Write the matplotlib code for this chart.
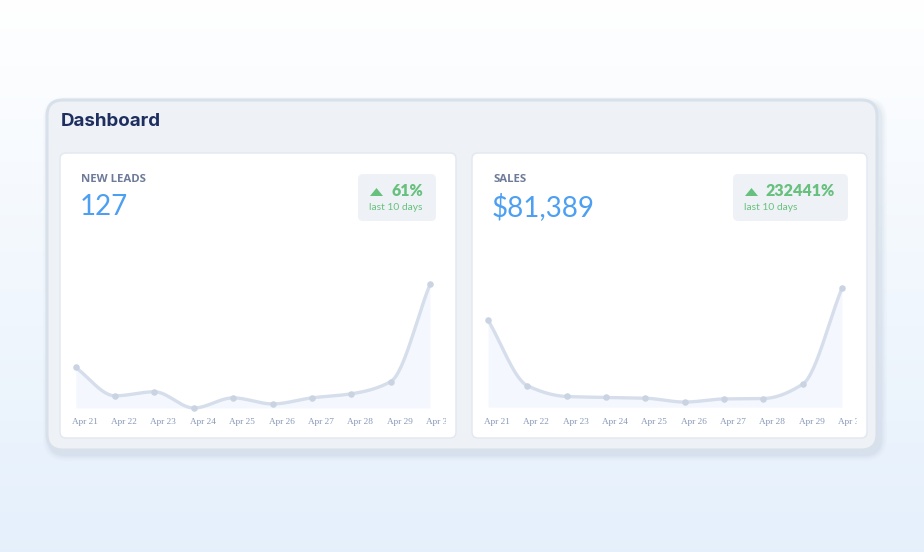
import numpy as np
import matplotlib
matplotlib.use("Agg")
import matplotlib.pyplot as plt
from matplotlib.patches import FancyBboxPatch, Polygon
from matplotlib.transforms import Bbox

# ---------------- data ----------------
dates = ["Apr 21", "Apr 22", "Apr 23", "Apr 24", "Apr 25",
         "Apr 26", "Apr 27", "Apr 28", "Apr 29", "Apr 30"]
leads = [20, 6, 8, 0, 5, 2, 5, 7, 13, 61]
sales = [23400, 5800, 2900, 2650, 2450, 1400, 2250, 2350, 6200, 31989]

titles = ["NEW LEADS", "SALES"]
totals = ["127", "$81,389"]
changes = ["61%", "232441%"]
period = "last 10 days"
dashboard_title = "Dashboard"

# ---------------- style ----------------
W, H = 924, 552
NAVY = "#1e2f5f"
LABEL = "#6d7b98"
BLUE = "#4d9ff2"
GREEN = "#67c07d"
LINE = "#d6deeb"
DOT = "#c9d3e2"
FILL = "#f4f8fe"
TICK = "#8697b8"

fig = plt.figure(figsize=(W / 100, H / 100), dpi=100)
bg = fig.add_axes([0, 0, 1, 1])
bg.set_xlim(0, W)
bg.set_ylim(H, 0)
bg.axis("off")

# background gradient
grad = np.linspace(0, 1, 256)[:, None]
c0 = np.array([0.998, 0.999, 1.0])
c1 = np.array([0.898, 0.941, 0.988])
img = c0[None, None, :] * (1 - grad[..., None]) + c1[None, None, :] * grad[..., None]
img = np.repeat(img, 2, axis=1)
bg.imshow(img, extent=[0, W, H, 0], aspect="auto", zorder=0)


def rbox(x0, y0, x1, y1, r, fc, ec="none", lw=0, z=1, alpha=1.0):
    p = FancyBboxPatch((x0 + r, y0 + r), (x1 - x0) - 2 * r, (y1 - y0) - 2 * r,
                       boxstyle=f"round,pad={r}", fc=fc, ec=ec, lw=lw,
                       zorder=z, alpha=alpha)
    bg.add_patch(p)
    return p


# outer dashboard card with soft shadow
for i, a in enumerate([0.04, 0.05, 0.07, 0.09]):
    g = 7 - i * 1.6
    rbox(47 - g + 3, 100 - g + 4, 877 + g + 3, 450 + g + 4, 16 + g,
         fc="#9fb0c8", z=1, alpha=a)
rbox(47, 100, 877, 450, 16, fc="#eef2f7", ec="#d8e0ea", lw=2.2, z=2)
bg.text(61, 121.5, dashboard_title, fontsize=13.5, fontweight="bold",
        color=NAVY, family=["Inter", "DejaVu Sans"], va="center", ha="left",
        zorder=5)

cards = [(60, 153, 456, 438), (472, 153, 867, 438)]
badges = [(358, 174, 436, 221), (733, 174, 848, 221)]
plots = [(75.7, 430.0, 272, 408), (488.0, 842.0, 272, 407.3)]
headroom = [1.1, 1.135]
series = [leads, sales]


def monotone(x, y, n=30):
    x = np.asarray(x, float)
    y = np.asarray(y, float)
    h = np.diff(x)
    d = np.diff(y) / h
    m = np.zeros_like(y)
    m[0], m[-1] = d[0], d[-1]
    for k in range(1, len(y) - 1):
        if d[k - 1] * d[k] <= 0:
            m[k] = 0
        else:
            m[k] = 2 / (1 / d[k - 1] + 1 / d[k])
    xs, ys = [], []
    for k in range(len(x) - 1):
        t = np.linspace(0, 1, n, endpoint=(k == len(x) - 2))
        h00 = 2 * t**3 - 3 * t**2 + 1
        h10 = t**3 - 2 * t**2 + t
        h01 = -2 * t**3 + 3 * t**2
        h11 = t**3 - t**2
        xs.append(x[k] + t * h[k])
        ys.append(h00 * y[k] + h10 * h[k] * m[k] + h01 * y[k + 1] + h11 * h[k] * m[k + 1])
    return np.concatenate(xs), np.concatenate(ys)


for ci in range(2):
    x0, y0, x1, y1 = cards[ci]
    rbox(x0, y0, x1, y1, 6, fc="white", ec="#e2e8f0", lw=1.0, z=3)
    bg.text(x0 + 21, 180, titles[ci], fontsize=8.2, fontweight="bold",
            color=LABEL, family=["Open Sans", "DejaVu Sans"], va="center",
            ha="left", zorder=5)
    bg.text(x0 + 20, 207, totals[ci], fontsize=20, color=BLUE,
            family=["Lato", "DejaVu Sans"], va="center", ha="left", zorder=5)
    bx0, by0, bx1, by1 = badges[ci]
    rbox(bx0, by0, bx1, by1, 5, fc="#eef2f6", z=4)
    tx = bx0 + 12
    bg.add_patch(Polygon([[tx, 196], [tx + 13, 196], [tx + 6.5, 188]],
                         closed=True, fc=GREEN, ec="none", zorder=5))
    bg.text(tx + 21, 191, changes[ci], fontsize=11.5, fontweight="heavy",
            color=GREEN, family=["Lato", "DejaVu Sans"], va="center",
            ha="left", zorder=5)
    bg.text(tx - 1, 207.5, period, fontsize=7.4, color=GREEN,
            family=["Lato", "DejaVu Sans"], va="center", ha="left", zorder=5)

    # chart axes
    px0, px1, py0, py1 = plots[ci]
    ax = fig.add_axes([px0 / W, 1 - py1 / H, (px1 - px0) / W, (py1 - py0) / H])
    ax.patch.set_alpha(0)
    ax.set_zorder(6)
    vals = series[ci]
    xi = np.arange(len(vals))
    ax.set_xlim(0, len(vals) - 1)
    ax.set_ylim(0, max(vals) * headroom[ci])
    sx, sy = monotone(xi, vals)
    sy = np.clip(sy, 0, None)
    ax.fill_between(sx, 0, sy, color=FILL, lw=0, zorder=1)
    ax.plot(sx, sy, color=LINE, lw=2.4, solid_capstyle="round", zorder=2,
            clip_on=False)
    ax.scatter(xi, vals, s=22, color=DOT, zorder=3, clip_on=False, lw=0)
    ax.axis("off")
    clip = Bbox.from_extents(0, 0, x1 - 10, H)
    for i, lab in enumerate(dates):
        t = ax.annotate(lab, xy=(i, 0), xycoords=("data", "axes fraction"),
                        xytext=(-4, -14.5), textcoords="offset pixels",
                        ha="left", va="center", fontsize=6.7, color=TICK,
                        family=["Liberation Serif", "DejaVu Serif"],
                        annotation_clip=False)
        t.set_clip_on(True)
        t.set_clip_box(clip)

fig.savefig("out.png", dpi=100)
